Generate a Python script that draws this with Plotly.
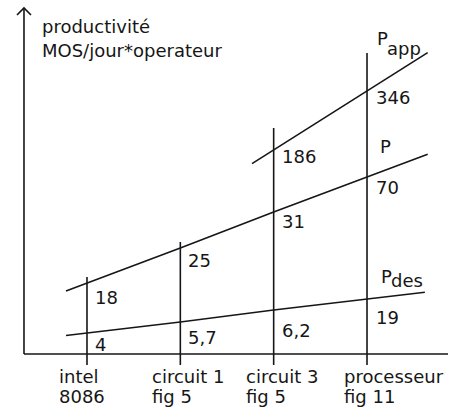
import plotly.graph_objects as go

# ---- data -------------------------------------------------------------
cat_line1 = ["intel", "circuit 1", "circuit 3", "processeur"]
cat_line2 = ["8086", "fig 5", "fig 5", "fig 11"]

series_main = ["P", "P", "P"]
series_sub = ["app", "", "des"]
p_app_values = [None, None, "186", "346"]
p_values = ["18", "25", "31", "70"]
p_des_values = ["4", "5,7", "6,2", "19"]

# schematic levels of each line at each category
p_app_level = [None, None, 204, 263]
p_level = [71, 106, 142, 177]
p_des_level = [21, 32, 44, 55]
stem_top = [77, 112, 226, 301]

y_title = ["productivité", "MOS/jour*operateur"]

# ---- style / layout ---------------------------------------------------
W, H = 461, 409
X_RANGE = [-0.932, 4.007]
Y_RANGE = [-55, 354]
AXIS_X = -0.675
AXIS_TOP = 346
AXIS_RIGHT = 3.868
STEM_BOTTOM = -11
INK = "#161616"
LW = 1.6
FONT = dict(family="DejaVu Sans", size=18, color=INK)

# extents of sloped lines (in category-index units)
extent = {"app": (1.768, 3.65), "p": (-0.225, 3.65), "des": (-0.225, 3.62)}
# label offsets (below the intersection)
off_app = [None, None, -6, -6]
off_p = [-14, -12, -9, -10]
off_des = [-11, -15, -20, -18]
# series label placement relative to the processeur stem: (dy main, dx main, dy sub, dx sub)
series_pos = [(52.5, 8, 42.5, 18), (31, 11, 0, 0), (22.5, 12, 18.5, 22)]
series_levels = [p_app_level, p_level, p_des_level]

fig = go.Figure()

def add_line(x, y):
    fig.add_trace(go.Scatter(x=x, y=y, mode="lines",
                             line=dict(color=INK, width=LW),
                             hoverinfo="skip", showlegend=False))

def sloped(levels, ext):
    pts = [(i, v) for i, v in enumerate(levels) if v is not None]
    (i0, v0), (i1, v1) = pts[0], pts[1]
    (j0, w0), (j1, w1) = pts[-2], pts[-1]
    s0 = (v1 - v0) / (i1 - i0)
    s1 = (w1 - w0) / (j1 - j0)
    xs = [ext[0]] + [p[0] for p in pts] + [ext[1]]
    ys = [v0 + (ext[0] - i0) * s0] + [p[1] for p in pts] + [w1 + (ext[1] - j1) * s1]
    return xs, ys

# axes
add_line([AXIS_X, AXIS_X], [0, AXIS_TOP])
add_line([AXIS_X, AXIS_RIGHT], [0, 0])
add_line([AXIS_X - 0.075, AXIS_X, AXIS_X + 0.075], [AXIS_TOP - 7, AXIS_TOP, AXIS_TOP - 7])

# vertical stems
for i, top in enumerate(stem_top):
    add_line([i, i], [STEM_BOTTOM, top])

# sloped lines
for lev, key in [(p_app_level, "app"), (p_level, "p"), (p_des_level, "des")]:
    xs, ys = sloped(lev, extent[key])
    add_line(xs, ys)

ann = []
# value labels
for vals, lev, offs in [(p_app_values, p_app_level, off_app),
                        (p_values, p_level, off_p),
                        (p_des_values, p_des_level, off_des)]:
    for i, (v, l, o) in enumerate(zip(vals, lev, offs)):
        if v is None:
            continue
        ann.append(dict(x=i, y=l + o, text=v, showarrow=False, xanchor="left",
                        yanchor="middle", xshift=6 if i < 3 else 7, font=FONT))

# series labels near the processeur stem (main letter + lowered suffix)
for main, sub, lev, (dy, dx, sdy, sdx) in zip(series_main, series_sub, series_levels, series_pos):
    ann.append(dict(x=3, y=lev[3] + dy, text=main, showarrow=False, xanchor="left",
                    yanchor="middle", xshift=dx, font=FONT))
    if sub:
        ann.append(dict(x=3, y=lev[3] + sdy, text=sub, showarrow=False, xanchor="left",
                        yanchor="middle", xshift=sdx, font=FONT))

# category labels
for i, (a, b) in enumerate(zip(cat_line1, cat_line2)):
    sh = -30 if i < 3 else -25
    ann.append(dict(x=i, y=0, text=a, showarrow=False, xanchor="left", yanchor="middle",
                    xshift=sh, yshift=-22, font=FONT))
    ann.append(dict(x=i, y=0, text=b, showarrow=False, xanchor="left", yanchor="middle",
                    xshift=sh, yshift=-42, font=FONT))

# y-axis title
for k, t in enumerate(y_title):
    ann.append(dict(x=AXIS_X, y=AXIS_TOP, text=t, showarrow=False, xanchor="left",
                    yanchor="middle", xshift=16, yshift=-(18 + 24 * k), font=FONT))

fig.update_layout(
    width=W, height=H, margin=dict(l=0, r=0, t=0, b=0),
    paper_bgcolor="white", plot_bgcolor="white",
    xaxis=dict(range=X_RANGE, visible=False, fixedrange=True),
    yaxis=dict(range=Y_RANGE, visible=False, fixedrange=True),
    annotations=ann, showlegend=False, hovermode=False,
)

fig.write_html("out.html", config={"displayModeBar": False},
               post_script="document.body.style.margin='0';document.body.style.overflow='hidden';")
